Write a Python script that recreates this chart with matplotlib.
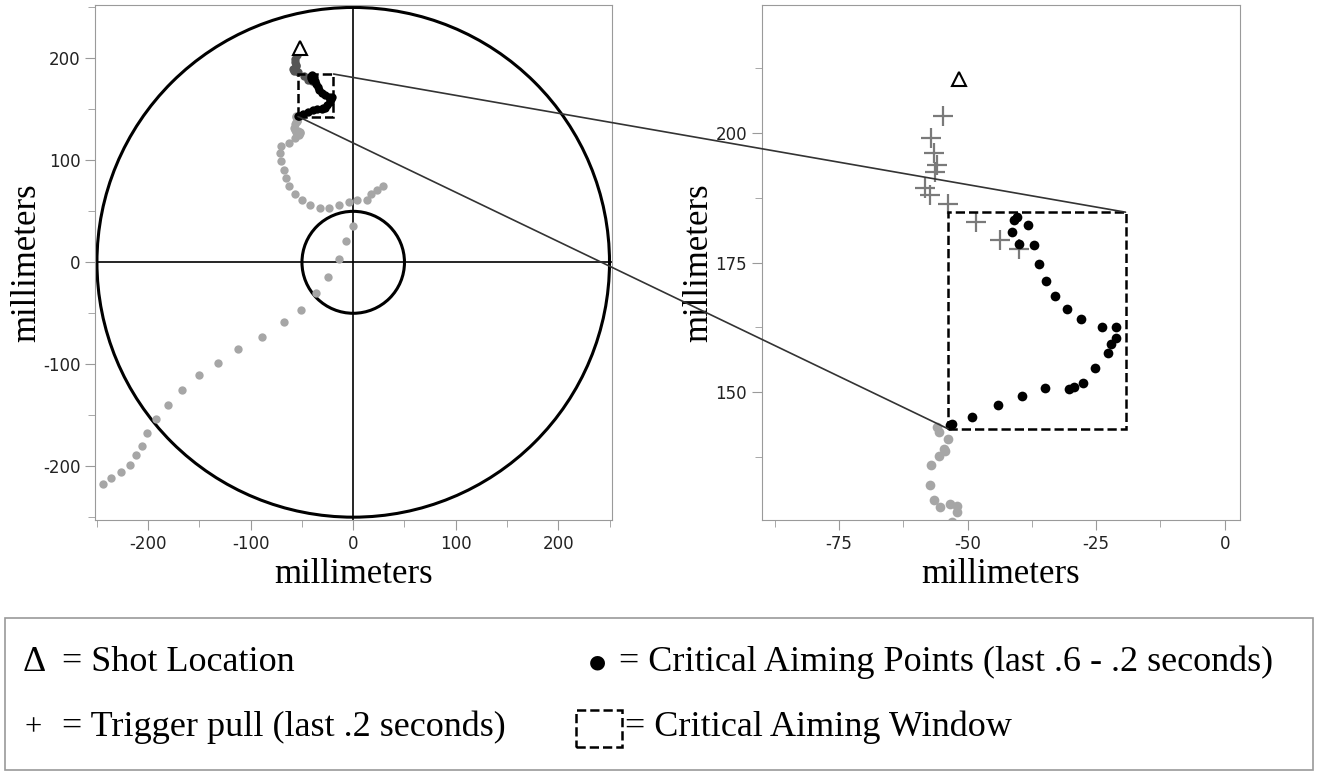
import matplotlib.pyplot as plt
import matplotlib.patches as mpatches
from matplotlib.patches import ConnectionPatch
from matplotlib.ticker import MultipleLocator
import numpy as np

plt.rcParams["axes.unicode_minus"] = False

# Aim trace data (millimeters)

shot_x = [-51.7]
shot_y = [210.3]

trigger_x = [-54.8, -57.1, -56.5, -55.9, -56.3, -58.3, -57.3, -53.8, -48.3, -43.7, -40.0]
trigger_y = [203.3, 199.0, 196.0, 193.8, 192.4, 189.3, 188.0, 186.2, 182.8, 179.3, 177.7]

critical_x = [-40.4, -40.9, -41.3, -38.2, -40.0, -37.0, -36.1, -34.7, -33.0, -30.6, -27.9,
              -23.8, -21.1, -21.2, -22.2, -22.8, -25.3, -27.5, -29.4, -30.2, -34.9, -39.4,
              -44.1, -49.1, -53.0, -53.4]
critical_y = [183.7, 183.1, 180.8, 182.2, 178.5, 178.3, 174.8, 171.5, 168.6, 166.1, 164.1,
              162.6, 162.6, 160.5, 159.3, 157.6, 154.7, 151.8, 151.0, 150.6, 150.8, 149.4,
              147.5, 145.2, 144.0, 143.8]

early_x = [-244, -236, -227, -218, -212, -206, -201, -192, -181, -167, -150, -132, -112, -89,
           -68, -51, -36, -25, -14, -7, 0, 29, 23, 17, 13, 4, -4, -14, -24, -32, -42, -50,
           -57, -63, -66, -68, -70, -71, -70, -63, -57, -53, -52, -52.0, -53.4, -55.4, -56.5,
           -57.3, -57.1, -55.6, -54.4, -54.6, -53.8, -55.6, -55.9]
early_y = [-217, -212, -206, -199, -189, -180, -167, -154, -140, -125, -111, -99, -85, -73,
           -59, -47, -30, -14, 3, 21, 36, 75, 71, 67, 61, 61, 59, 56, 53, 53, 56, 61, 67, 75,
           83, 91, 99, 107, 114, 117, 122, 125, 127, 128.1, 128.5, 127.9, 129.3, 132.2, 136.1,
           137.8, 138.8, 139.1, 141.1, 142.4, 143.4]

window_x = [-53.8, -19.3]
window_y = [143.0, 184.7]

serif = "Liberation Serif"
grey = "#a6a6a6"

fig = plt.figure(figsize=(13.18, 7.73), dpi=100)
ax1 = fig.add_axes([0.072, 0.327, 0.392, 0.666])
ax2 = fig.add_axes([0.578, 0.327, 0.363, 0.666])


def style_axes(ax):
    for s in ax.spines.values():
        s.set_color("#9a9a9a")
    ax.tick_params(which="both", direction="out", colors="#9a9a9a", labelcolor="#222222",
                   labelsize=12)
    ax.tick_params(which="major", length=7)
    ax.tick_params(which="minor", length=5)
    ax.set_xlabel("millimeters", fontfamily=serif, fontsize=25)
    ax.set_ylabel("millimeters", fontfamily=serif, fontsize=25, labelpad=0)


# Left: full target
ax1.add_patch(mpatches.Circle((0, 0), 250, fill=False, lw=2.2, color="black", zorder=1))
ax1.add_patch(mpatches.Circle((0, 0), 50, fill=False, lw=2.2, color="black", zorder=1))
ax1.axhline(0, color="black", lw=1.2, zorder=1)
ax1.axvline(0, color="black", lw=1.2, zorder=1)
ax1.plot(early_x, early_y, "o", color=grey, ms=6, mec="none", zorder=2)
ax1.plot(trigger_x, trigger_y, "o", color="#555555", ms=6, mec="none", zorder=3)
ax1.plot(critical_x, critical_y, "o", color="black", ms=6, mec="none", zorder=4)
ax1.plot(shot_x, shot_y, "^", mfc="white", mec="black", ms=10, mew=1.5, zorder=5)
ax1.add_patch(mpatches.Rectangle((window_x[0], window_y[0]), window_x[1] - window_x[0],
                                 window_y[1] - window_y[0], fill=False, ls="--", lw=1.8,
                                 color="black", zorder=6))
ax1.set_xlim(-252, 252)
ax1.set_ylim(-253, 252)
ax1.xaxis.set_major_locator(MultipleLocator(100))
ax1.xaxis.set_minor_locator(MultipleLocator(50))
ax1.yaxis.set_major_locator(MultipleLocator(100))
ax1.yaxis.set_minor_locator(MultipleLocator(50))
style_axes(ax1)

# Right: zoomed window
ax2.plot(early_x, early_y, "o", color=grey, ms=7, mec="none", zorder=2)
ax2.plot(trigger_x, trigger_y, "+", color="#7a7a7a", ms=14, mew=1.6, zorder=3)
ax2.plot(critical_x, critical_y, "o", color="black", ms=7, mec="none", zorder=4)
ax2.plot(shot_x, shot_y, "^", mfc="white", mec="black", ms=10, mew=1.5, zorder=5)
ax2.add_patch(mpatches.Rectangle((window_x[0], window_y[0]), window_x[1] - window_x[0],
                                 window_y[1] - window_y[0], fill=False, ls="--", lw=1.8,
                                 color="black", zorder=6))
ax2.set_xlim(-90, 3)
ax2.set_ylim(125.4, 224.5)
ax2.xaxis.set_major_locator(MultipleLocator(25))
ax2.xaxis.set_minor_locator(MultipleLocator(12.5))
ax2.yaxis.set_major_locator(MultipleLocator(25))
ax2.yaxis.set_minor_locator(MultipleLocator(12.5))
style_axes(ax2)

# Connector lines between the two windows
for (xa, ya) in [(window_x[1], window_y[1]), (window_x[0], window_y[0])]:
    con = ConnectionPatch(xyA=(xa, ya), coordsA=ax1.transData, xyB=(xa, ya),
                          coordsB=ax2.transData, color="#333333", lw=1.2, zorder=10)
    fig.add_artist(con)

# Legend box
fig.add_artist(mpatches.Rectangle((0.004, 0.004), 0.992, 0.196, transform=fig.transFigure,
                                  fill=False, ec="#9a9a9a", lw=1.2))
fig.text(0.026, 0.143, "\u0394", fontfamily=serif, fontsize=26, va="center", ha="center")
fig.text(0.047, 0.143, "= Shot Location", fontfamily=serif, fontsize=26, va="center")
fig.text(0.025, 0.059, "+", fontfamily=serif, fontsize=22, va="center", ha="center")
fig.text(0.047, 0.059, "= Trigger pull (last .2 seconds)", fontfamily=serif, fontsize=26,
         va="center")
fig.text(0.453, 0.143, "\u25cf", fontsize=14, va="center", ha="center")
fig.text(0.470, 0.143, "= Critical Aiming Points (last .6 - .2 seconds)", fontfamily=serif,
         fontsize=26, va="center")
fig.add_artist(mpatches.Rectangle((0.437, 0.033), 0.035, 0.049, transform=fig.transFigure,
                                  fill=False, ls="--", lw=1.8, ec="black"))
fig.text(0.474, 0.059, "= Critical Aiming Window", fontfamily=serif, fontsize=26, va="center")

fig.savefig("out.png", dpi=100)
